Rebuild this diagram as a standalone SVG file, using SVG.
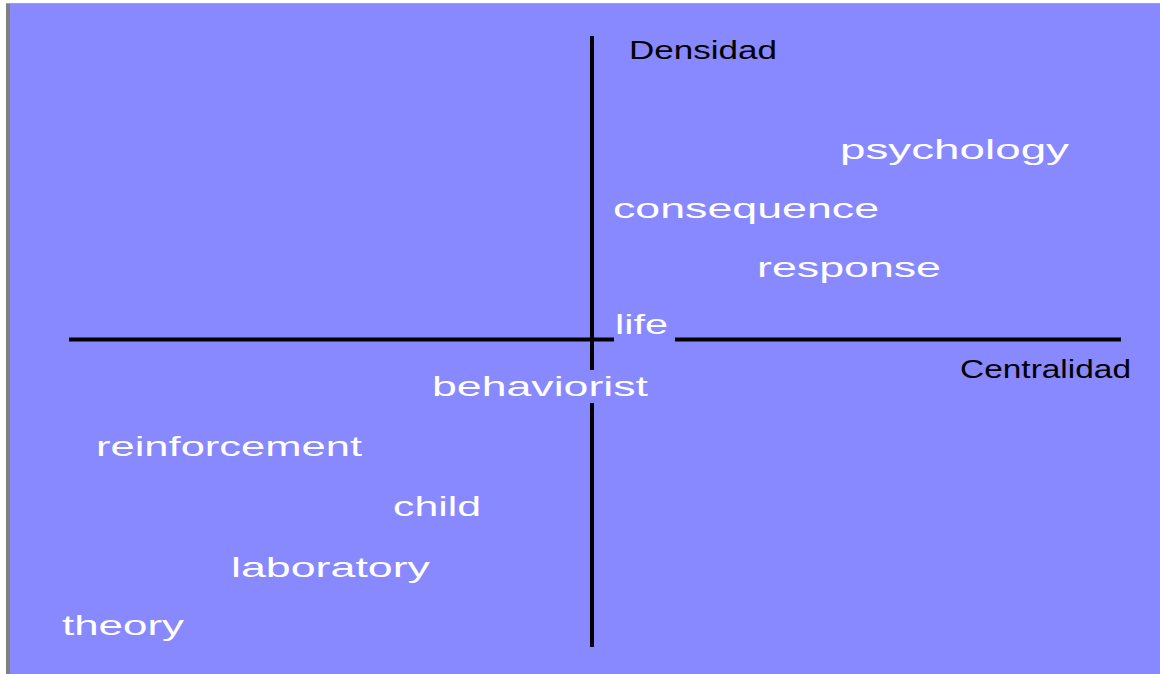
<svg xmlns="http://www.w3.org/2000/svg" width="1160" height="674" viewBox="0 0 1160 674">
<style>
.lbl{font-family:"Liberation Sans",Arial,sans-serif;font-size:28px;fill:#ffffff}
.ax{font-family:"Liberation Sans",Arial,sans-serif;font-size:25px;fill:#000000}
.axis{stroke:#000000;stroke-width:4;fill:none}
</style>
<rect x="0" y="0" width="1160" height="674" fill="#ffffff"/>
<rect x="6" y="3" width="1154" height="671" fill="#8888ff"/>
<rect x="6" y="3" width="4" height="671" fill="#808080"/>
<line x1="6" y1="3.5" x2="1160" y2="3.5" stroke="#a0a0c0" stroke-width="1"/>
<g id="connectors">
<line class="axis" x1="592" y1="36" x2="592" y2="370"/>
<line class="axis" x1="592" y1="403" x2="592" y2="647"/>
<line class="axis" x1="69" y1="339.5" x2="614" y2="339.5"/>
<line class="axis" x1="675" y1="339.5" x2="1121" y2="339.5"/>
</g>
<g id="axis-densidad"><text class="ax" x="629" y="59" textLength="148" lengthAdjust="spacingAndGlyphs">Densidad</text></g>
<g id="axis-centralidad"><text class="ax" x="960" y="378" textLength="171" lengthAdjust="spacingAndGlyphs">Centralidad</text></g>
<g id="node-psychology"><text class="lbl" x="840" y="159" textLength="229" lengthAdjust="spacingAndGlyphs">psychology</text></g>
<g id="node-consequence"><text class="lbl" x="613" y="218" textLength="266" lengthAdjust="spacingAndGlyphs">consequence</text></g>
<g id="node-response"><text class="lbl" x="757" y="277" textLength="184" lengthAdjust="spacingAndGlyphs">response</text></g>
<g id="node-life"><text class="lbl" x="615" y="334" textLength="53" lengthAdjust="spacingAndGlyphs">life</text></g>
<g id="node-behaviorist"><text class="lbl" x="432" y="396" textLength="216" lengthAdjust="spacingAndGlyphs">behaviorist</text></g>
<g id="node-reinforcement"><text class="lbl" x="96" y="456" textLength="266" lengthAdjust="spacingAndGlyphs">reinforcement</text></g>
<g id="node-child"><text class="lbl" x="393" y="516" textLength="88" lengthAdjust="spacingAndGlyphs">child</text></g>
<g id="node-laboratory"><text class="lbl" x="231" y="577" textLength="199" lengthAdjust="spacingAndGlyphs">laboratory</text></g>
<g id="node-theory"><text class="lbl" x="62" y="635" textLength="122" lengthAdjust="spacingAndGlyphs">theory</text></g>
</svg>
